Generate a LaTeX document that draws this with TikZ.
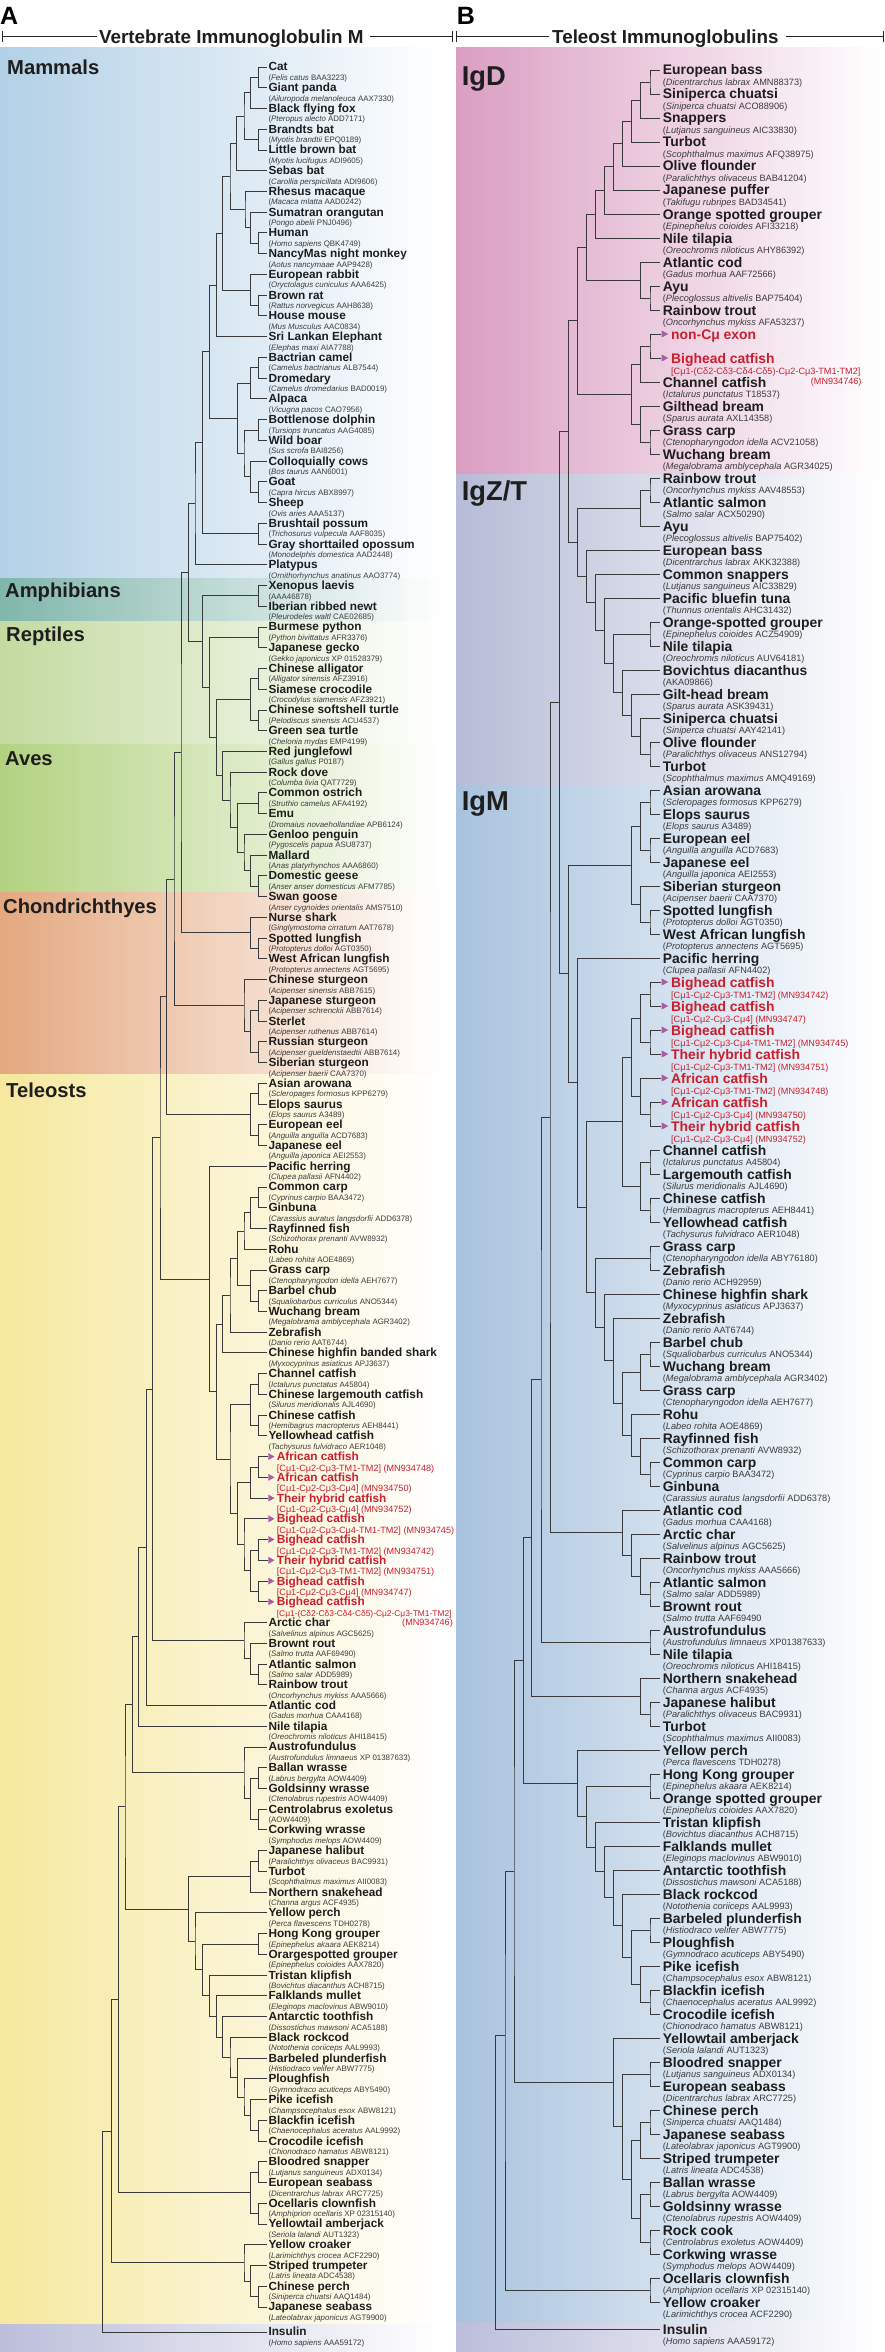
\documentclass[tikz,border=0pt]{standalone}
\usepackage{fontspec}
\setmainfont{Liberation Sans}
\usetikzlibrary{calc}
\definecolor{treeC}{RGB}{58,58,58}
\definecolor{nameC}{RGB}{30,30,30}
\definecolor{spC}{RGB}{60,60,60}
\definecolor{redC}{RGB}{204,30,45}
\definecolor{triC}{RGB}{170,92,168}
\definecolor{mamC}{RGB}{178,208,230}
\definecolor{ampC}{RGB}{128,182,172}
\definecolor{repC}{RGB}{195,218,160}
\definecolor{aveC}{RGB}{178,210,128}
\definecolor{chdC}{RGB}{228,168,128}
\definecolor{telC}{RGB}{246,232,158}
\definecolor{insC}{RGB}{188,190,218}
\definecolor{igdC}{RGB}{218,158,194}
\definecolor{igzC}{RGB}{182,188,214}
\definecolor{igmC}{RGB}{168,194,222}
\newcommand\myLN{\fontsize{11.8}{12}\selectfont\bfseries}
\newcommand\myLS{\fontsize{7.9}{8}\selectfont}
\newcommand\myRN{\fontsize{13.9}{14}\selectfont\bfseries}
\newcommand\myRS{\fontsize{9.2}{10}\selectfont}
\newcommand\myRed{\fontsize{9.1}{10}\selectfont}
\newcommand\myRedS{\fontsize{8.4}{10}\selectfont}
\newcounter{lc}\newcounter{rc}
\def\lxtra{0}\def\rxtra{0}
% left leaves
\newcommand\la[2]{\stepcounter{lc}%
 \pgfmathsetmacro\yy{67+(\arabic{lc}-1)*20.74+\lxtra}%
 \coordinate (a\arabic{lc}) at (266.5,\yy);%
 \node[lnm] (an\arabic{lc}) at (268.3,\yy+4) {#1};%
 \node[lsp] (as\arabic{lc}) at (268.3,\yy+13.5) {#2};}
\newcommand\lr[2]{\stepcounter{lc}%
 \pgfmathsetmacro\yy{67+(\arabic{lc}-1)*20.74}%
 \coordinate (a\arabic{lc}) at (267.5,\yy);%
 \fill[tri] (268.3,\yy-3.5) -- (274.5,\yy) -- (268.3,\yy+3.5) -- cycle;%
 \node[lrn] (an\arabic{lc}) at (276.7,\yy+4) {#1};%
 \node[lrs] (as\arabic{lc}) at (276.7,\yy+14.5) {#2};}
\newcommand\lrr[3]{\stepcounter{lc}%
 \pgfmathsetmacro\yy{67+(\arabic{lc}-1)*20.74}%
 \coordinate (a\arabic{lc}) at (267.5,\yy);%
 \fill[tri] (268.3,\yy-3.5) -- (274.5,\yy) -- (268.3,\yy+3.5) -- cycle;%
 \node[lrn] (an\arabic{lc}) at (276.7,\yy+4) {#1};%
 \node[lrs,font=\myRedS] (as\arabic{lc}) at (276.7,\yy+14.5) {#2};%
 \node[lrs,anchor=base east] (at\arabic{lc}) at (453,\yy+23.5) {#3};}
% right leaves
\newcommand\ra[2]{\stepcounter{rc}%
 \pgfmathsetmacro\yy{70+(\arabic{rc}-1)*24+\rxtra}%
 \coordinate (b\arabic{rc}) at (659.5,\yy);%
 \node[rnm] (bn\arabic{rc}) at (662.7,\yy+5) {#1};%
 \node[rsp] (bs\arabic{rc}) at (662.7,\yy+15.3) {#2};}
\newcommand\rr[2]{\stepcounter{rc}%
 \pgfmathsetmacro\yy{70+(\arabic{rc}-1)*24}%
 \coordinate (b\arabic{rc}) at (661,\yy);%
 \fill[tri] (661.7,\yy-3.5) -- (668.3,\yy) -- (661.7,\yy+3.5) -- cycle;%
 \node[rrn] (bn\arabic{rc}) at (671,\yy+5.2) {#1};%
 \node[rrs] (bs\arabic{rc}) at (671,\yy+16.3) {#2};}
\newcommand\rrr[3]{\stepcounter{rc}%
 \pgfmathsetmacro\yy{70+(\arabic{rc}-1)*24}%
 \coordinate (b\arabic{rc}) at (661,\yy);%
 \fill[tri] (661.7,\yy-3.5) -- (668.3,\yy) -- (661.7,\yy+3.5) -- cycle;%
 \node[rrn] (bn\arabic{rc}) at (671,\yy+5.2) {#1};%
 \node[rrs] (bs\arabic{rc}) at (671,\yy+16.3) {#2};%
 \node[rrs,anchor=base east] (bt\arabic{rc}) at (861.7,\yy+26.5) {#3};}
% internal nodes
\newcommand\J[4]{%
 \path let \p1=($(#3)!0.5!(#4)$) in (#2pt,\y1) coordinate (#1);%
 \draw[br] (#3) -| (#1) |- (#4);}
\newcommand\Jy[5]{%
 \coordinate (#1) at (#2,#3);%
 \draw[br] (#4) -| (#1) |- (#5);}
\begin{document}
\begin{tikzpicture}[x=1pt,y=-1pt,
  br/.style={draw=treeC,line width=0.85pt},
  lnm/.style={anchor=base west,inner sep=0pt,font=\myLN,text=nameC},
  lsp/.style={anchor=base west,inner sep=0pt,font=\myLS,text=spC},
  lrn/.style={anchor=base west,inner sep=0pt,font=\myLN,text=redC},
  lrs/.style={anchor=base west,inner sep=0pt,font=\myRed,text=redC},
  rnm/.style={anchor=base west,inner sep=0pt,font=\myRN,text=nameC},
  rsp/.style={anchor=base west,inner sep=0pt,font=\myRS,text=spC},
  rrn/.style={anchor=base west,inner sep=0pt,font=\myRN,text=redC},
  rrs/.style={anchor=base west,inner sep=0pt,font=\myRed,text=redC},
  tri/.style={fill=triC},
  grp/.style={anchor=base west,inner sep=0pt,font=\fontsize{20.2}{22}\selectfont\bfseries,text=nameC},
  grpR/.style={anchor=base west,inner sep=0pt,font=\fontsize{27.3}{28}\selectfont\bfseries,text=nameC},
  pan/.style={anchor=base west,inner sep=0pt,font=\fontsize{25}{26}\selectfont\bfseries,text=black},
  htx/.style={anchor=base west,inner sep=0pt,font=\fontsize{18.8}{20}\selectfont\bfseries,text=nameC},
  hl/.style={draw=black!85,line width=1pt}]
\useasboundingbox (0,0) rectangle (885,2352);
\fill[white] (0,0) rectangle (885,2352);
% ---------- backgrounds ----------
\shade[left color=mamC,right color=white] (0,48) rectangle (442,578);
\shade[left color=ampC,right color=white] (0,578) rectangle (442,621);
\shade[left color=repC,right color=white] (0,621) rectangle (442,744);
\shade[left color=aveC,right color=white] (0,744) rectangle (442,892);
\shade[left color=chdC,right color=white] (0,892) rectangle (442,1074);
\shade[left color=telC,right color=white] (0,1074) rectangle (442,2324);
\shade[left color=insC,right color=white] (0,2324) rectangle (442,2352);
\shade[left color=igdC,right color=white] (456,48) rectangle (882,474);
\shade[left color=igzC,right color=white] (456,474) rectangle (882,785);
\shade[left color=igmC,right color=white] (456,785) rectangle (882,2322);
\shade[left color=insC,right color=white] (456,2322) rectangle (882,2352);
% ---------- headers ----------
\node[pan] (pA) at (0,24.3) {A};
\node[pan] (pB) at (456.7,24.3) {B};
\node[htx] (hA) at (99,43.3) {Vertebrate Immunoglobulin M};
\node[htx] (hB) at (552,43.3) {Teleost Immunoglobulins};
\draw[hl] (2,36.7) -- (97,36.7);
\draw[hl] (2,31) -- (2,42.4);
\draw[hl] (370,36.7) -- (452,36.7);
\draw[hl] (452,31) -- (452,42.4);
\draw[hl] (456.7,31) -- (456.7,42.4);
\draw[hl] (456.7,36.7) -- (549,36.7);
\draw[hl] (786,36.7) -- (883,36.7);
\draw[hl] (883,31) -- (883,42.4);
% ---------- group labels ----------
\node[grp] (gMam) at (7,75) {Mammals};
\node[grp] (gAmp) at (5,597.3) {Amphibians};
\node[grp] (gRep) at (6,641.7) {Reptiles};
\node[grp] (gAve) at (5,765) {Aves};
\node[grp] (gCho) at (3,913.3) {Chondrichthyes};
\node[grp] (gTel) at (6,1097.3) {Teleosts};
\node[grpR] (gD) at (461.7,86) {IgD};
\node[grpR] (gZ) at (461.7,500) {IgZ/T};
\node[grpR] (gM) at (461.7,810.7) {IgM};
% ---------- left leaves ----------
\la{Cat}{(\textit{Felis catus} BAA3223)}
\la{Giant panda}{(\textit{Ailuropoda melanoleuca} AAX7330)}
\la{Black flying fox}{(\textit{Pteropus alecto} ADD7171)}
\la{Brandts bat}{(\textit{Myotis brandtii} EPQ0189)}
\la{Little brown bat}{(\textit{Myotis lucifugus} ADI9605)}
\la{Sebas bat}{(\textit{Carollia perspicillata} ADI9606)}
\la{Rhesus macaque}{(\textit{Macaca mlatta} AAD0242)}
\la{Sumatran orangutan}{(\textit{Pongo abelii} PNJ0496)}
\la{Human}{(\textit{Homo sapiens} QBK4749)}
\la{NancyMas night monkey}{(\textit{Aotus nancymaae} AAP9428)}
\la{European rabbit}{(\textit{Oryctolagus cuniculus} AAA6425)}
\la{Brown rat}{(\textit{Rattus norvegicus} AAH8638)}
\la{House mouse}{(\textit{Mus Musculus} AAC0834)}
\la{Sri Lankan Elephant}{(\textit{Elephas maxi} AIA7788)}
\la{Bactrian camel}{(\textit{Camelus bactrianus} ALB7544)}
\la{Dromedary}{(\textit{Camelus dromedarius} BAD0019)}
\la{Alpaca}{(\textit{Vicugna pacos} CAO7956)}
\la{Bottlenose dolphin}{(\textit{Tursiops truncatus} AAG4085)}
\la{Wild boar}{(\textit{Sus scrofa} BAI8256)}
\la{Colloquially cows}{(\textit{Bos taurus} AAN6001)}
\la{Goat}{(\textit{Capra hircus} ABX8997)}
\la{Sheep}{(\textit{Ovis aries} AAA5137)}
\la{Brushtail possum}{(\textit{Trichosurus vulpecula} AAF8035)}
\la{Gray shorttailed opossum}{(\textit{Monodelphis domestica} AAD2448)}
\la{Platypus}{(\textit{Ornithorhynchus anatinus} AAO3774)}
\la{Xenopus laevis}{(AAA46878)}
\la{Iberian ribbed newt}{(\textit{Pleurodeles waltl} CAE02685)}
\la{Burmese python}{(\textit{Python bivittatus} AFR3376)}
\la{Japanese gecko}{(\textit{Gekko japonicus} XP 01528379)}
\la{Chinese alligator}{(\textit{Alligator sinensis} AFZ3916)}
\la{Siamese crocodile}{(\textit{Crocodylus siamensis} AFZ3921)}
\la{Chinese softshell turtle}{(\textit{Pelodiscus sinensis} ACU4537)}
\la{Green sea turtle}{(\textit{Chelonia mydas} EMP4199)}
\la{Red junglefowl}{(\textit{Gallus gallus} P0187)}
\la{Rock dove}{(\textit{Columba livia} QAT7729)}
\la{Common ostrich}{(\textit{Struthio camelus} AFA4192)}
\la{Emu}{(\textit{Dromaius novaehollandiae} APB6124)}
\la{Genloo penguin}{(\textit{Pygoscelis papua} ASU8737)}
\la{Mallard}{(\textit{Anas platyrhynchos} AAA6860)}
\la{Domestic geese}{(\textit{Anser anser domesticus} AFM7785)}
\la{Swan goose}{(\textit{Anser cygnoides orientalis} AMS7510)}
\la{Nurse shark}{(\textit{Ginglymostoma cirratum} AAT7678)}
\la{Spotted lungfish}{(\textit{Protopterus dolloi} AGT0350)}
\la{West African lungfish}{(\textit{Protopterus annectens} AGT5695)}
\la{Chinese sturgeon}{(\textit{Acipenser sinensis} ABB7615)}
\la{Japanese sturgeon}{(\textit{Acipenser schrenckii} ABB7614)}
\la{Sterlet}{(\textit{Acipenser ruthenus} ABB7614)}
\la{Russian sturgeon}{(\textit{Acipenser gueldenstaedtii} ABB7614)}
\la{Siberian sturgeon}{(\textit{Acipenser baerii} CAA7370)}
\la{Asian arowana}{(\textit{Scleropages formosus} KPP6279)}
\la{Elops saurus}{(\textit{Elops saurus} A3489)}
\la{European eel}{(\textit{Anguilla anguilla} ACD7683)}
\la{Japanese eel}{(\textit{Anguilla japonica} AEI2553)}
\la{Pacific herring}{(\textit{Clupea pallasii} AFN4402)}
\la{Common carp}{(\textit{Cyprinus carpio} BAA3472)}
\la{Ginbuna}{(\textit{Carassius auratus langsdorfii} ADD6378)}
\la{Rayfinned fish}{(\textit{Schizothorax prenanti} AVW8932)}
\la{Rohu}{(\textit{Labeo rohita} AOE4869)}
\la{Grass carp}{(\textit{Ctenopharyngodon idella} AEH7677)}
\la{Barbel chub}{(\textit{Squaliobarbus curriculus} ANO5344)}
\la{Wuchang bream}{(\textit{Megalobrama amblycephala} AGR3402)}
\la{Zebrafish}{(\textit{Danio rerio} AAT6744)}
\la{Chinese highfin banded shark}{(\textit{Myxocyprinus asiaticus} APJ3637)}
\la{Channel catfish}{(\textit{Ictalurus punctatus} A45804)}
\la{Chinese largemouth catfish}{(\textit{Silurus meridionalis} AJL4690)}
\la{Chinese catfish}{(\textit{Hemibagrus macropterus} AEH8441)}
\la{Yellowhead catfish}{(\textit{Tachysurus fulvidraco} AER1048)}
\lr{African catfish}{[Cμ1-Cμ2-Cμ3-TM1-TM2] (MN934748)}
\lr{African catfish}{[Cμ1-Cμ2-Cμ3-Cμ4] (MN934750)}
\lr{Their hybrid catfish}{[Cμ1-Cμ2-Cμ3-Cμ4] (MN934752)}
\lr{Bighead catfish}{[Cμ1-Cμ2-Cμ3-Cμ4-TM1-TM2] (MN934745)}
\lr{Bighead catfish}{[Cμ1-Cμ2-Cμ3-TM1-TM2] (MN934742)}
\lr{Their hybrid catfish}{[Cμ1-Cμ2-Cμ3-TM1-TM2] (MN934751)}
\lr{Bighead catfish}{[Cμ1-Cμ2-Cμ3-Cμ4] (MN934747)}
\lrr{Bighead catfish}{[Cμ1-(Cδ2-Cδ3-Cδ4-Cδ5)-Cμ2-Cμ3-TM1-TM2]}{(MN934746)}
\la{Arctic char}{(\textit{Salvelinus alpinus} AGC5625)}
\la{Brownt rout}{(\textit{Salmo trutta} AAF69490)}
\la{Atlantic salmon}{(\textit{Salmo salar} ADD5989)}
\la{Rainbow trout}{(\textit{Oncorhynchus mykiss} AAA5666)}
\la{Atlantic cod}{(\textit{Gadus morhua} CAA4168)}
\la{Nile tilapia}{(\textit{Oreochromis niloticus} AHI18415)}
\la{Austrofundulus}{(\textit{Austrofundulus limnaeus} XP 01387633)}
\la{Ballan wrasse}{(\textit{Labrus bergylta} AOW4409)}
\la{Goldsinny wrasse}{(\textit{Ctenolabrus rupestris} AOW4409)}
\la{Centrolabrus exoletus}{(AOW4409)}
\la{Corkwing wrasse}{(\textit{Symphodus melops} AOW4409)}
\la{Japanese halibut}{(\textit{Paralichthys olivaceus} BAC9931)}
\la{Turbot}{(\textit{Scophthalmus maximus} AII0083)}
\la{Northern snakehead}{(\textit{Channa argus} ACF4935)}
\la{Yellow perch}{(\textit{Perca flavescens} TDH0278)}
\la{Hong Kong grouper}{(\textit{Epinephelus akaara} AEK8214)}
\la{Orargespotted grouper}{(\textit{Epinephelus coioides} AAX7820)}
\la{Tristan klipfish}{(\textit{Bovichtus diacanthus} ACH8715)}
\la{Falklands mullet}{(\textit{Eleginops maclovinus} ABW9010)}
\la{Antarctic toothfish}{(\textit{Dissostichus mawsoni} ACA5188)}
\la{Black rockcod}{(\textit{Notothenia coriiceps} AAL9993)}
\la{Barbeled plunderfish}{(\textit{Histiodraco velifer} ABW7775)}
\la{Ploughfish}{(\textit{Gymnodraco acuticeps} ABY5490)}
\la{Pike icefish}{(\textit{Champsocephalus esox} ABW8121)}
\la{Blackfin icefish}{(\textit{Chaenocephalus aceratus} AAL9992)}
\la{Crocodile icefish}{(\textit{Chionodraco hamatus} ABW8121)}
\la{Bloodred snapper}{(\textit{Lutjanus sanguineus} ADX0134)}
\la{European seabass}{(\textit{Dicentrarchus labrax} ARC7725)}
\la{Ocellaris clownfish}{(\textit{Amphiprion ocellaris} XP 02315140)}
\la{Yellowtail amberjack}{(\textit{Seriola lalandi} AUT1323)}
\la{Yellow croaker}{(\textit{Larimichthys crocea} ACF2290)}
\la{Striped trumpeter}{(\textit{Latris lineata} ADC4538)}
\la{Chinese perch}{(\textit{Siniperca chuatsi} AAQ1484)}
\la{Japanese seabass}{(\textit{Lateolabrax japonicus} AGT9900)}
\def\lxtra{4.3}
\la{Insulin}{(\textit{Homo sapiens} AAA59172)}
% ---------- right leaves ----------
\ra{European bass}{(\textit{Dicentrarchus labrax} AMN88373)}
\ra{Siniperca chuatsi}{(\textit{Siniperca chuatsi} ACO88906)}
\ra{Snappers}{(\textit{Lutjanus sanguineus} AIC33830)}
\ra{Turbot}{(\textit{Scophthalmus maximus} AFQ38975)}
\ra{Olive flounder}{(\textit{Paralichthys olivaceus} BAB41204)}
\ra{Japanese puffer}{(\textit{Takifugu rubripes} BAD34541)}
\ra{Orange spotted grouper}{(\textit{Epinephelus coioides} AFI33218)}
\ra{Nile tilapia}{(\textit{Oreochromis niloticus} AHY86392)}
\ra{Atlantic cod}{(\textit{Gadus morhua} AAF72566)}
\ra{Ayu}{(\textit{Plecoglossus altivelis} BAP75404)}
\ra{Rainbow trout}{(\textit{Oncorhynchus mykiss} AFA53237)}
\rr{non-Cμ exon}{}
\rrr{Bighead catfish}{[Cμ1-(Cδ2-Cδ3-Cδ4-Cδ5)-Cμ2-Cμ3-TM1-TM2]}{(MN934746)}
\ra{Channel catfish}{(\textit{Ictalurus punctatus} T18537)}
\ra{Gilthead bream}{(\textit{Sparus aurata} AXL14358)}
\ra{Grass carp}{(\textit{Ctenopharyngodon idella} ACV21058)}
\ra{Wuchang bream}{(\textit{Megalobrama amblycephala} AGR34025)}
\ra{Rainbow trout}{(\textit{Oncorhynchus mykiss} AAV48553)}
\ra{Atlantic salmon}{(\textit{Salmo salar} ACX50290)}
\ra{Ayu}{(\textit{Plecoglossus altivelis} BAP75402)}
\ra{European bass}{(\textit{Dicentrarchus labrax} AKK32388)}
\ra{Common snappers}{(\textit{Lutjanus sanguineus} AIC33829)}
\ra{Pacific bluefin tuna}{(\textit{Thunnus orientalis} AHC31432)}
\ra{Orange-spotted grouper}{(\textit{Epinephelus coioides} ACZ54909)}
\ra{Nile tilapia}{(\textit{Oreochromis niloticus} AUV64181)}
\ra{Bovichtus diacanthus}{(AKA09866)}
\ra{Gilt-head bream}{(\textit{Sparus aurata} ASK39431)}
\ra{Siniperca chuatsi}{(\textit{Siniperca chuatsi} AAY42141)}
\ra{Olive flounder}{(\textit{Paralichthys olivaceus} ANS12794)}
\ra{Turbot}{(\textit{Scophthalmus maximus} AMQ49169)}
\ra{Asian arowana}{(\textit{Scleropages formosus} KPP6279)}
\ra{Elops saurus}{(\textit{Elops saurus} A3489)}
\ra{European eel}{(\textit{Anguilla anguilla} ACD7683)}
\ra{Japanese eel}{(\textit{Anguilla japonica} AEI2553)}
\ra{Siberian sturgeon}{(\textit{Acipenser baerii} CAA7370)}
\ra{Spotted lungfish}{(\textit{Protopterus dolloi} AGT0350)}
\ra{West African lungfish}{(\textit{Protopterus annectens} AGT5695)}
\ra{Pacific herring}{(\textit{Clupea pallasii} AFN4402)}
\rr{Bighead catfish}{[Cμ1-Cμ2-Cμ3-TM1-TM2] (MN934742)}
\rr{Bighead catfish}{[Cμ1-Cμ2-Cμ3-Cμ4] (MN934747)}
\rr{Bighead catfish}{[Cμ1-Cμ2-Cμ3-Cμ4-TM1-TM2] (MN934745)}
\rr{Their hybrid catfish}{[Cμ1-Cμ2-Cμ3-TM1-TM2] (MN934751)}
\rr{African catfish}{[Cμ1-Cμ2-Cμ3-TM1-TM2] (MN934748)}
\rr{African catfish}{[Cμ1-Cμ2-Cμ3-Cμ4] (MN934750)}
\rr{Their hybrid catfish}{[Cμ1-Cμ2-Cμ3-Cμ4] (MN934752)}
\ra{Channel catfish}{(\textit{Ictalurus punctatus} A45804)}
\ra{Largemouth catfish}{(\textit{Silurus meridionalis} AJL4690)}
\ra{Chinese catfish}{(\textit{Hemibagrus macropterus} AEH8441)}
\ra{Yellowhead catfish}{(\textit{Tachysurus fulvidraco} AER1048)}
\ra{Grass carp}{(\textit{Ctenopharyngodon idella} ABY76180)}
\ra{Zebrafish}{(\textit{Danio rerio} ACH92959)}
\ra{Chinese highfin shark}{(\textit{Myxocyprinus asiaticus} APJ3637)}
\ra{Zebrafish}{(\textit{Danio rerio} AAT6744)}
\ra{Barbel chub}{(\textit{Squaliobarbus curriculus} ANO5344)}
\ra{Wuchang bream}{(\textit{Megalobrama amblycephala} AGR3402)}
\ra{Grass carp}{(\textit{Ctenopharyngodon idella} AEH7677)}
\ra{Rohu}{(\textit{Labeo rohita} AOE4869)}
\ra{Rayfinned fish}{(\textit{Schizothorax prenanti} AVW8932)}
\ra{Common carp}{(\textit{Cyprinus carpio} BAA3472)}
\ra{Ginbuna}{(\textit{Carassius auratus langsdorfii} ADD6378)}
\ra{Atlantic cod}{(\textit{Gadus morhua} CAA4168)}
\ra{Arctic char}{(\textit{Salvelinus alpinus} AGC5625)}
\ra{Rainbow trout}{(\textit{Oncorhynchus mykiss} AAA5666)}
\ra{Atlantic salmon}{(\textit{Salmo salar} ADD5989)}
\ra{Brownt rout}{(\textit{Salmo trutta} AAF69490}
\ra{Austrofundulus}{(\textit{Austrofundulus limnaeus} XP01387633)}
\ra{Nile tilapia}{(\textit{Oreochromis niloticus} AHI18415)}
\ra{Northern snakehead}{(\textit{Channa argus} ACF4935)}
\ra{Japanese halibut}{(\textit{Paralichthys olivaceus} BAC9931)}
\ra{Turbot}{(\textit{Scophthalmus maximus} AII0083)}
\ra{Yellow perch}{(\textit{Perca flavescens} TDH0278)}
\ra{Hong Kong grouper}{(\textit{Epinephelus akaara} AEK8214)}
\ra{Orange spotted grouper}{(\textit{Epinephelus coioides} AAX7820)}
\ra{Tristan klipfish}{(\textit{Bovichtus diacanthus} ACH8715)}
\ra{Falklands mullet}{(\textit{Eleginops maclovinus} ABW9010)}
\ra{Antarctic toothfish}{(\textit{Dissostichus mawsoni} ACA5188)}
\ra{Black rockcod}{(\textit{Notothenia coriiceps} AAL9993)}
\ra{Barbeled plunderfish}{(\textit{Histiodraco velifer} ABW7775)}
\ra{Ploughfish}{(\textit{Gymnodraco acuticeps} ABY5490)}
\ra{Pike icefish}{(\textit{Champsocephalus esox} ABW8121)}
\ra{Blackfin icefish}{(\textit{Chaenocephalus aceratus} AAL9992)}
\ra{Crocodile icefish}{(\textit{Chionodraco hamatus} ABW8121)}
\ra{Yellowtail amberjack}{(\textit{Seriola lalandi} AUT1323)}
\ra{Bloodred snapper}{(\textit{Lutjanus sanguineus} ADX0134)}
\ra{European seabass}{(\textit{Dicentrarchus labrax} ARC7725)}
\ra{Chinese perch}{(\textit{Siniperca chuatsi} AAQ1484)}
\ra{Japanese seabass}{(\textit{Lateolabrax japonicus} AGT9900)}
\ra{Striped trumpeter}{(\textit{Latris lineata} ADC4538)}
\ra{Ballan wrasse}{(\textit{Labrus bergylta} AOW4409)}
\ra{Goldsinny wrasse}{(\textit{Ctenolabrus rupestris} AOW4409)}
\ra{Rock cook}{(\textit{Centrolabrus exoletus} AOW4409)}
\ra{Corkwing wrasse}{(\textit{Symphodus melops} AOW4409)}
\ra{Ocellaris clownfish}{(\textit{Amphiprion ocellaris} XP 02315140)}
\ra{Yellow croaker}{(\textit{Larimichthys crocea} ACF2290)}
\def\rxtra{3}
\ra{Insulin}{(\textit{Homo sapiens} AAA59172)}
% ---------- left tree ----------
\J{m1}{258.3}{a1}{a2}
\J{m2}{250.7}{m1}{a3}
\J{m3}{258.3}{a4}{a5}
\J{m4}{244}{m2}{m3}
\J{m5}{236.7}{m4}{a6}
\J{m6}{258.3}{a9}{a10}
\J{m7}{250.7}{a8}{m6}
\J{m8}{245}{a7}{m7}
\J{m9}{230}{m5}{m8}
\J{m10}{258.3}{a12}{a13}
\J{m11}{250.7}{a11}{m10}
\J{m12}{222.7}{m9}{m11}
\J{m13}{216.7}{m12}{a14}
\J{m14}{258.3}{a15}{a16}
\J{m15}{250.7}{m14}{a17}
\J{m16}{258.3}{a18}{a19}
\J{m17}{258.3}{a21}{a22}
\J{m18}{250.7}{a20}{m17}
\J{m19}{244}{m16}{m18}
\J{m20}{237.3}{m15}{m19}
\J{m21}{209.3}{m13}{m20}
\J{m22}{258.3}{a23}{a24}
\J{m23}{202.3}{m21}{m22}
\J{m24}{195}{m23}{a25}
\J{t1}{258.3}{a26}{a27}
\J{t2}{258.3}{a28}{a29}
\J{t3}{258.3}{a30}{a31}
\J{t4}{258.3}{a32}{a33}
\J{t5}{250.7}{t3}{t4}
\J{t6}{258.3}{a36}{a37}
\J{t7}{258.3}{a40}{a41}
\J{t8}{250.7}{a39}{t7}
\J{t9}{244}{a38}{t8}
\J{t10}{237.3}{t6}{t9}
\J{t11}{230}{a35}{t10}
\J{t12}{222.7}{a34}{t11}
\J{t13}{216.7}{t5}{t12}
\J{t14}{209.3}{t2}{t13}
\J{t15}{202.3}{t1}{t14}
\J{t16}{188.3}{m24}{t15}
\J{c1}{258.3}{a43}{a44}
\J{c2}{250.7}{a42}{c1}
\J{c3}{181}{t16}{c2}
\J{c4}{258.3}{a46}{a47}
\J{c5}{258.3}{a48}{a49}
\J{c6}{250.7}{c4}{c5}
\J{c7}{244}{a45}{c6}
\J{c8}{174}{c3}{c7}
\J{e1}{258.3}{a50}{a51}
\J{e2}{258.3}{a52}{a53}
\J{e3}{250.7}{e1}{e2}
\J{e4}{166.7}{c8}{e3}
\J{p1}{258.3}{a55}{a56}
\J{p2}{250.7}{p1}{a57}
\J{p3}{244}{p2}{a58}
\J{p4}{258.3}{a60}{a61}
\J{p5}{250.7}{a59}{p4}
\J{p6}{237.3}{p3}{p5}
\J{p7}{230}{p6}{a62}
\J{p8}{222.7}{p7}{a63}
\J{f1}{258.3}{a64}{a65}
\J{f2}{258.3}{a66}{a67}
\J{f3}{250.7}{f1}{f2}
\J{f4}{258.3}{a68}{a69}
\J{f5}{250.7}{f4}{a70}
\J{f6}{258.3}{a72}{a73}
\J{f7}{258.3}{a74}{a75}
\J{f8}{250.7}{f6}{f7}
\J{f9}{244}{a71}{f8}
\J{f10}{237.3}{f5}{f9}
\J{f11}{230}{f3}{f10}
\J{p9}{216.7}{p8}{f11}
\J{p10}{209.3}{a54}{p9}
\J{e5}{160}{e4}{p10}
\J{s1}{258.3}{a78}{a79}
\J{s2}{250.7}{a77}{s1}
\J{s3}{244}{a76}{s2}
\J{e6}{152.7}{e5}{s3}
\J{e7}{146.7}{e6}{a80}
\J{e8}{138.3}{e7}{a81}
\J{w1}{258.3}{a83}{a84}
\J{w2}{258.3}{a85}{a86}
\J{w3}{250.7}{w1}{w2}
\J{w4}{244}{a82}{w3}
\J{e9}{132.7}{e8}{w4}
\J{q1}{258.3}{a87}{a88}
\J{q2}{250.7}{q1}{a89}
\J{q3}{258.3}{a91}{a92}
\J{q4}{258.3}{a100}{a101}
\J{q5}{250.7}{a99}{q4}
\J{q6}{244}{a98}{q5}
\J{q7}{237.3}{a97}{q6}
\J{q8}{230}{a96}{q7}
\J{q9}{222.7}{a95}{q8}
\J{q10}{216.7}{a94}{q9}
\J{q11}{209.3}{a93}{q10}
\J{q12}{202.3}{q3}{q11}
\J{q13}{195}{a90}{q12}
\J{q14}{188.3}{q2}{q13}
\J{e10}{125}{e9}{q14}
\J{r1}{258.3}{a102}{a103}
\J{r2}{258.3}{a104}{a105}
\J{r3}{250.7}{r1}{r2}
\J{e11}{118.3}{e10}{r3}
\J{r4}{258.3}{a108}{a109}
\J{r5}{250.7}{a107}{r4}
\J{r6}{244}{a106}{r5}
\J{e12}{111.7}{e11}{r6}
\J{rootA}{102.7}{e12}{a110}
% ---------- right tree ----------
\J{d1}{650}{b1}{b2}
\J{d2}{640.7}{d1}{b3}
\J{d3}{631.7}{d2}{b4}
\J{d4}{622.7}{d3}{b5}
\J{d5}{613.3}{d4}{b6}
\J{d6}{604.3}{d5}{b7}
\J{d7}{595.3}{d6}{b8}
\J{d8}{650}{b10}{b11}
\J{d9}{640.7}{b9}{d8}
\J{d10}{586.7}{d7}{d9}
\J{d11}{650}{b12}{b13}
\J{d12}{640.7}{d11}{b14}
\J{d13}{650}{b16}{b17}
\J{d14}{640.7}{b15}{d13}
\J{d15}{631.7}{d12}{d14}
\J{d16}{577.7}{d10}{d15}
\J{z1}{650}{b18}{b19}
\J{z2}{640.7}{z1}{b20}
\J{z3}{650}{b29}{b30}
\J{z4}{640.7}{b28}{z3}
\J{z5}{631.7}{b27}{z4}
\J{z6}{622.7}{b26}{z5}
\J{z7}{650}{b24}{b25}
\J{z8}{613.3}{z7}{z6}
\J{z9}{604.3}{b23}{z8}
\J{z10}{595.3}{b22}{z9}
\J{z11}{586.7}{b21}{z10}
\J{z12}{577.7}{z2}{z11}
\J{z13}{568.3}{d16}{z12}
\J{g1}{650}{b31}{b32}
\J{g2}{650}{b33}{b34}
\J{g3}{640.7}{g1}{g2}
\J{g4}{650}{b36}{b37}
\J{g5}{640.7}{b35}{g4}
\J{g6}{631.7}{g3}{g5}
\J{h1}{650}{b39}{b40}
\J{h2}{650}{b41}{b42}
\J{h3}{640.7}{h1}{h2}
\J{h4}{650}{b44}{b45}
\J{h5}{640.7}{b43}{h4}
\J{h6}{631.7}{h3}{h5}
\J{h7}{650}{b46}{b47}
\J{h8}{650}{b48}{b49}
\J{h9}{640.7}{h7}{h8}
\J{h10}{622.7}{h6}{h9}
\J{k1}{650}{b50}{b51}
\J{k2}{650}{b54}{b55}
\J{k3}{640.7}{k2}{b56}
\J{k4}{650}{b59}{b60}
\J{k5}{640.7}{b58}{k4}
\J{k6}{631.7}{b57}{k5}
\J{k7}{622.7}{k3}{k6}
\J{k8}{613.3}{b53}{k7}
\J{k9}{604.3}{b52}{k8}
\J{k10}{595.3}{k1}{k9}
\J{g7}{586.7}{h10}{k10}
\J{g8}{577.7}{b38}{g7}
\J{g9}{568.3}{g6}{g8}
\J{g10}{559.3}{z13}{g9}
\J{u1}{650}{b64}{b65}
\J{u2}{640.7}{b63}{u1}
\J{u3}{631.7}{b62}{u2}
\J{u4}{622.7}{b61}{u3}
\J{g11}{550}{g10}{u4}
\J{u5}{650}{b66}{b67}
\J{g12}{541}{g11}{u5}
\J{u6}{650}{b69}{b70}
\J{u7}{640.7}{b68}{u6}
\J{g13}{531.7}{g12}{u7}
\J{v1}{650}{b72}{b73}
\J{v2}{650}{b81}{b82}
\J{v3}{640.7}{b80}{v2}
\J{v4}{650}{b78}{b79}
\J{v5}{631.7}{v4}{v3}
\J{v6}{622.7}{b77}{v5}
\J{v7}{613.3}{b76}{v6}
\J{v8}{604.3}{b75}{v7}
\J{v9}{595.3}{b74}{v8}
\J{v10}{586.7}{v1}{v9}
\J{v11}{577.7}{b71}{v10}
\J{g14}{523.3}{g13}{v11}
\J{x1}{650}{b84}{b85}
\J{x2}{650}{b86}{b87}
\J{x3}{640.7}{x2}{b88}
\J{x4}{650}{b89}{b90}
\J{x5}{650}{b91}{b92}
\J{x6}{640.7}{x4}{x5}
\J{x7}{631.7}{x3}{x6}
\J{x8}{622.7}{x1}{x7}
\J{x9}{613.3}{b83}{x8}
\J{g15}{514}{g14}{x9}
\J{x10}{650}{b93}{b94}
\Jy{g16}{505}{2035}{g15}{x10}
\J{rootB}{495.7}{g16}{b95}
\end{tikzpicture}
\end{document}
